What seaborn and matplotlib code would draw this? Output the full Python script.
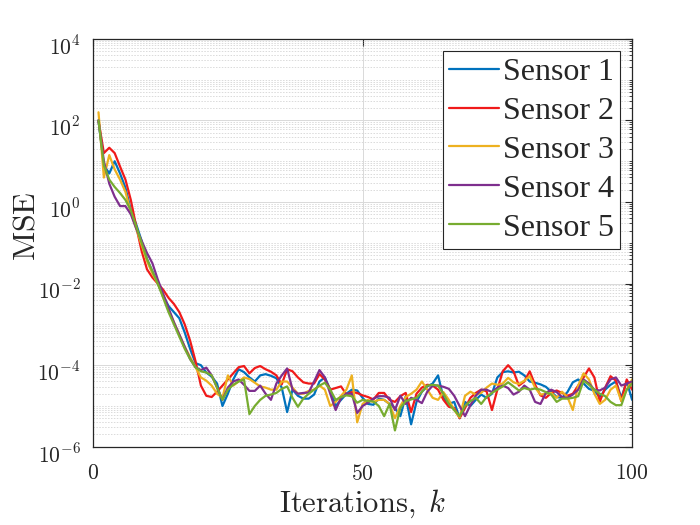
import numpy as np
import pandas as pd
import seaborn as sns
import matplotlib
matplotlib.use("Agg")
import matplotlib.pyplot as plt
import matplotlib.transforms as mtransforms
from matplotlib.ticker import FixedLocator, FuncFormatter, NullFormatter

# data (log10 of MSE)
iterations = list(range(1, 101))
sensor_names = ["Sensor 1", "Sensor 2", "Sensor 3", "Sensor 4", "Sensor 5"]
sensor_colors = ["#0072BD", "#F01A1A", "#EDB120", "#7E2F8E", "#77AC30"]

log_s1 = [2.0, 0.9, 0.7, 1.0, 0.7, 0.35, -0.2, -0.55, -0.95, -1.4,
          -1.7, -2.0, -2.3, -2.55, -2.7, -2.85, -3.2, -3.6, -3.95, -4.0,
          -4.18, -4.28, -4.45, -5.0, -4.7, -4.35, -4.1, -4.17, -4.3, -4.4,
          -4.25, -4.22, -4.26, -4.32, -4.55, -5.15, -4.6, -4.75, -4.82, -4.82,
          -4.72, -4.4, -4.3, -4.6, -5.0, -4.85, -4.7, -4.6, -4.62, -4.8,
          -4.95, -4.97, -4.82, -4.85, -4.95, -5.05, -5.25, -4.76, -5.45, -4.9,
          -4.65, -4.52, -4.45, -4.25, -4.8, -4.95, -4.9, -5.3, -4.9, -5.0,
          -4.85, -4.72, -4.8, -4.7, -4.3, -4.17, -4.15, -4.18, -4.16, -4.25,
          -4.4, -4.43, -4.47, -4.53, -4.65, -4.78, -4.8, -4.66, -4.42, -4.35,
          -4.45, -4.58, -4.63, -4.78, -4.6, -4.48, -4.4, -4.8, -4.4, -4.85]
log_s2 = [2.0, 1.2, 1.33, 1.2, 0.87, 0.55, 0.05, -0.6, -1.2, -1.65,
          -1.85, -2.0, -2.15, -2.35, -2.5, -2.7, -3.0, -3.4, -3.9, -4.5,
          -4.75, -4.78, -4.65, -4.5, -4.35, -4.2, -4.05, -4.02, -4.2, -4.07,
          -4.02, -4.1, -4.16, -4.25, -4.47, -4.1, -4.15, -4.3, -4.42, -4.45,
          -4.45, -4.22, -4.35, -4.6, -4.56, -4.52, -4.72, -4.66, -4.68, -4.74,
          -4.78, -4.84, -4.68, -4.68, -4.85, -4.9, -4.76, -4.68, -5.15, -4.7,
          -4.55, -4.48, -4.5, -4.6, -4.85, -5.02, -5.05, -5.3, -5.05, -4.8,
          -4.68, -4.6, -4.64, -5.1, -4.6, -4.15, -4.0, -4.15, -4.5, -4.4,
          -4.15, -4.48, -4.74, -4.8, -4.68, -4.62, -4.68, -4.75, -4.7, -4.5,
          -4.3, -4.08, -4.3, -4.9, -4.55, -4.27, -4.38, -4.88, -4.35, -4.6]
log_s3 = [2.2, 0.6, 1.15, 0.8, 0.55, 0.25, -0.25, -0.65, -1.05, -1.45,
          -1.75, -2.0, -2.3, -2.65, -2.95, -3.25, -3.55, -3.8, -4.05, -4.3,
          -4.38, -4.5, -4.7, -4.8, -4.25, -4.5, -4.4, -4.3, -4.34, -4.43,
          -4.52, -4.55, -4.6, -4.6, -4.4, -4.4, -4.55, -4.7, -4.7, -4.63,
          -4.6, -4.5, -4.6, -5.0, -4.9, -4.75, -4.6, -4.25, -5.4, -4.95,
          -4.85, -4.9, -4.85, -4.85, -4.95, -5.3, -5.0, -4.78, -4.7, -4.6,
          -4.4, -4.6, -4.8, -4.85, -4.66, -4.85, -5.1, -5.28, -4.75, -4.65,
          -4.72, -4.68, -4.55, -4.45, -4.48, -4.45, -4.31, -4.42, -4.46, -4.38,
          -4.27, -4.55, -4.72, -4.7, -4.68, -4.8, -4.65, -4.78, -5.1, -4.5,
          -4.2, -4.35, -4.7, -4.95, -4.85, -4.6, -4.5, -4.88, -4.6, -4.35]
log_s4 = [2.0, 1.0, 0.45, 0.13, -0.1, -0.1, -0.3, -0.65, -0.95, -1.25,
          -1.5, -1.9, -2.25, -2.6, -2.95, -3.25, -3.55, -3.85, -4.05, -4.12,
          -4.06, -4.25, -4.55, -4.85, -4.55, -4.4, -4.35, -4.48, -4.63, -4.63,
          -4.5, -4.7, -4.85, -4.45, -4.25, -4.08, -4.6, -4.7, -4.68, -4.67,
          -4.4, -4.12, -4.3, -4.7, -5.1, -4.8, -4.7, -4.7, -5.17, -5.0,
          -4.92, -4.82, -4.76, -4.76, -4.8, -5.1, -4.75, -4.95, -4.8, -4.85,
          -4.93, -4.65, -4.5, -4.5, -4.53, -4.58, -4.75, -5.0, -5.25, -4.98,
          -4.75, -4.6, -4.6, -4.66, -4.55, -4.5, -4.56, -4.72, -4.65, -4.5,
          -4.6, -4.9, -4.95, -4.68, -4.6, -4.66, -4.78, -4.8, -4.72, -4.6,
          -4.35, -4.45, -4.6, -4.62, -4.55, -4.35, -4.3, -4.5, -4.45, -4.4]
log_s5 = [2.0, 0.9, 0.55, 0.37, 0.22, 0.05, -0.2, -0.6, -1.0, -1.4,
          -1.7, -2.0, -2.35, -2.7, -3.0, -3.3, -3.6, -3.85, -4.05, -4.15,
          -4.18, -4.25, -4.55, -4.85, -4.6, -4.48, -4.4, -4.35, -5.2, -5.0,
          -4.85, -4.75, -4.72, -4.68, -4.58, -4.52, -4.8, -5.02, -4.82, -4.7,
          -4.6, -4.5, -4.43, -4.6, -4.85, -4.78, -4.74, -4.76, -4.92, -4.85,
          -4.88, -4.89, -5.0, -5.25, -4.95, -5.6, -5.05, -4.88, -4.84, -4.8,
          -4.65, -4.5, -4.48, -4.5, -4.7, -4.95, -5.1, -5.25, -5.0, -4.88,
          -4.8, -4.95, -4.78, -4.68, -4.6, -4.52, -4.42, -4.52, -4.62, -4.56,
          -4.6, -4.57, -4.6, -4.66, -4.72, -4.9, -4.82, -4.82, -4.8, -4.76,
          -4.38, -4.48, -4.6, -4.7, -4.76, -4.9, -4.98, -4.98, -4.6, -4.45]

x_ticks = [0, 50, 100]
y_major = [10.0 ** e for e in range(-6, 5, 2)]

wide = pd.DataFrame({"k": iterations,
                     "Sensor 1": log_s1, "Sensor 2": log_s2, "Sensor 3": log_s3,
                     "Sensor 4": log_s4, "Sensor 5": log_s5})
df = wide.melt(id_vars="k", var_name="Sensor", value_name="logmse")
df["MSE"] = 10.0 ** df["logmse"]

sns.set_style("white")
plt.rcParams["font.family"] = ["Liberation Serif", "DejaVu Serif"]
plt.rcParams["mathtext.fontset"] = "cm"   # axis text looks like LaTeX output

fig = plt.figure(figsize=(7, 5.25), dpi=100)
ax = fig.add_axes([0.133, 0.149, 0.770, 0.777])

sns.lineplot(data=df, x="k", y="MSE", hue="Sensor", hue_order=sensor_names,
             palette=sensor_colors, linewidth=1.6, ax=ax, legend=True)

ax.set_yscale("log")
ax.set_xlim(0, 100)
ax.set_ylim(1e-6, 1e4)

ax.xaxis.set_major_locator(FixedLocator(x_ticks))
ax.xaxis.set_major_formatter(FuncFormatter(lambda v, p: r"$%d$" % v))
ax.yaxis.set_major_locator(FixedLocator(y_major))
minor = [m * 10.0 ** e for e in range(-6, 4) for m in range(1, 10)
         if not (m == 1 and e % 2 == 0)]
ax.yaxis.set_minor_locator(FixedLocator(minor))
ax.yaxis.set_minor_formatter(NullFormatter())
ax.yaxis.set_major_formatter(FuncFormatter(lambda v, p: r"$10^{%d}$" % round(np.log10(v))))

ax.grid(True, which="major", color="#d9d9d9", linewidth=0.7, linestyle="-")
ax.grid(True, which="minor", axis="y", color="#dadada", linewidth=0.7, linestyle=(0, (1.5, 1.5)))
ax.set_axisbelow(True)

ax.tick_params(which="both", direction="in", top=True, right=True, colors="#262626",
               labelsize=15.5, labelcolor="#262626")
ax.tick_params(which="major", length=5, width=0.8)
ax.tick_params(which="minor", length=2.5, width=0.6)
ax.tick_params(axis="x", pad=13)
ax.tick_params(axis="y", pad=9)
for s in ax.spines.values():
    s.set_color("#262626")
    s.set_linewidth(0.9)

ax.set_xlabel(r"$\mathrm{Iterations,}\;k$", fontsize=22, color="#262626", labelpad=2)
ax.set_ylabel(r"$\mathrm{MSE}$", fontsize=23, color="#262626")
ax.yaxis.set_label_coords(-0.095, 0.54)

leg = ax.legend(loc="upper right", fontsize=23, frameon=True, fancybox=False,
                edgecolor="#262626", framealpha=1, handlelength=1.55, handletextpad=0.12,
                labelspacing=0.3, borderpad=0.2, borderaxespad=0.38)
leg.get_frame().set_linewidth(0.8)

# MATLAB puts the y labels a little below their ticks
shift = mtransforms.ScaledTranslation(0, -6 / 100, fig.dpi_scale_trans)
for t in ax.yaxis.get_major_ticks():
    t.label1.set_transform(t.label1.get_transform() + shift)

fig.savefig("out.png", dpi=100)
